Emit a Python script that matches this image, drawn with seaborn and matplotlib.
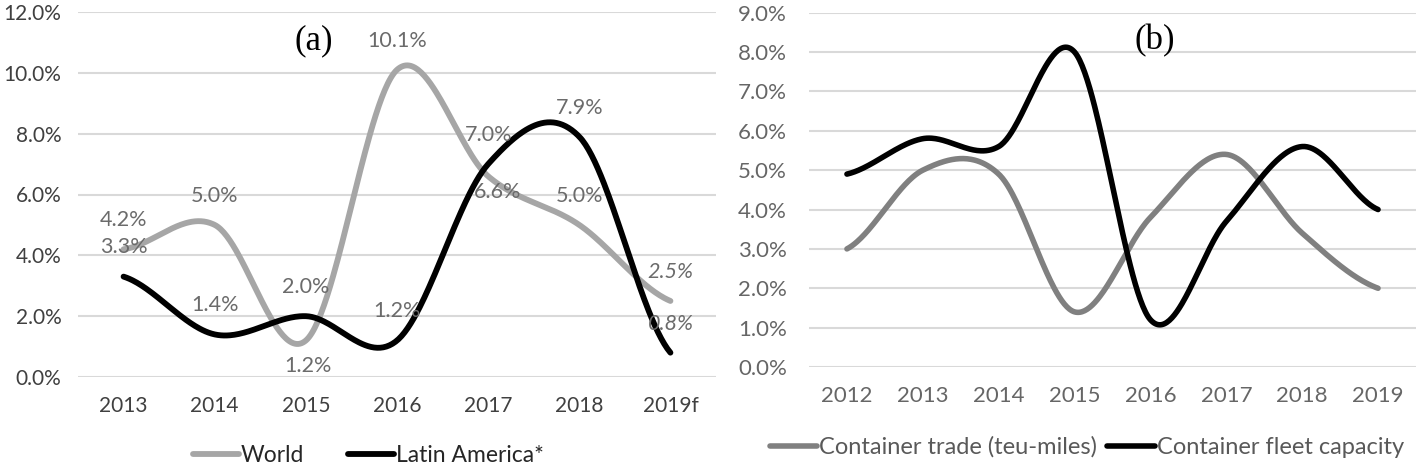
import numpy as np
import pandas as pd
import seaborn as sns
import matplotlib.pyplot as plt
from matplotlib.ticker import FuncFormatter


# panel (a): port throughput growth
years_a = ['2013', '2014', '2015', '2016', '2017', '2018', '2019f']
world = [4.2, 5.0, 1.2, 10.1, 6.6, 5.0, 2.5]
latam = [3.3, 1.4, 2.0, 1.2, 7.0, 7.9, 0.8]

# panel (b): container trade vs fleet
years_b = ['2012', '2013', '2014', '2015', '2016', '2017', '2018', '2019']
trade = [3.0, 5.0, 4.9, 1.4, 3.8, 5.4, 3.4, 2.0]
fleet = [4.9, 5.8, 5.6, 8.0, 1.2, 3.7, 5.6, 4.0]

# label placement (offset in points) for the data labels of panel (a)
world_lbl = [(0, 21), (0, 21), (1.5, -18), (0, 21), (6.5, -11), (0, 21), (0, 21)]
latam_lbl = [(0, 21)] * 7


def smooth(vals, n=60):
    # Excel style smoothed line (Catmull-Rom between the points)
    y = np.asarray(vals, dtype=float)
    k = len(y)
    m = np.empty(k)
    m[1:-1] = (y[2:] - y[:-2]) / 2
    m[0] = (y[1] - y[0]) / 2
    m[-1] = (y[-1] - y[-2]) / 2
    xs, ys = [], []
    for i in range(k - 1):
        t = np.linspace(0, 1, n, endpoint=(i == k - 2))
        h00 = 2*t**3 - 3*t**2 + 1
        h10 = t**3 - 2*t**2 + t
        h01 = -2*t**3 + 3*t**2
        h11 = t**3 - t**2
        xs.append(i + t)
        ys.append(h00*y[i] + h10*m[i] + h01*y[i+1] + h11*m[i+1])
    return np.concatenate(xs), np.concatenate(ys)


def curve_frame(series):
    parts = []
    for name, vals in series.items():
        x, y = smooth(vals)
        parts.append(pd.DataFrame({'x': x, 'y': y, 'series': name}))
    return pd.concat(parts, ignore_index=True)


sns.set_theme(style='white')
plt.rcParams['font.family'] = ['Lato', 'DejaVu Sans']

fig = plt.figure(figsize=(14.18, 4.67), dpi=100)
ax_a = fig.add_axes([78/1418, 90/467, 638/1418, 365/467])
ax_b = fig.add_axes([809/1418, 100/467, 607/1418, 354.3/467])

pct = FuncFormatter(lambda v, p: f'{v:.1f}%')

# ---- panel (a)
df_a = curve_frame({'World': world, 'Latin America*': latam})
sns.lineplot(data=df_a, x='x', y='y', hue='series', sort=False, ax=ax_a,
             palette={'World': '#a6a6a6', 'Latin America*': '#000000'},
             linewidth=4.2, estimator=None)

for vals, offs in [(world, world_lbl), (latam, latam_lbl)]:
    for i, (v, off) in enumerate(zip(vals, offs)):
        ax_a.annotate(f'{v:.1f}%', (i, v), xytext=off, textcoords='offset points',
                      ha='center', va='center', fontsize=15.5, color='#6b6b6b',
                      style='italic' if i == len(vals) - 1 else 'normal')

ax_a.set_xlim(-0.5, 6.5)
ax_a.set_ylim(0, 12)
ax_a.set_yticks(np.arange(0, 12.1, 2))
ax_a.yaxis.set_major_formatter(pct)
ax_a.set_xticks(range(len(years_a)))
ax_a.set_xticklabels(years_a)
ax_a.tick_params(axis='both', length=0, labelsize=15, labelcolor='#404040')
ax_a.tick_params(axis='x', pad=14)
ax_a.tick_params(axis='y', pad=12)
ax_a.text(0.37, 0.92, '(a)', transform=ax_a.transAxes, ha='center', va='center',
          fontsize=25, family='Liberation Serif', color='black')
ax_a.legend(loc='center', bbox_to_anchor=(0.455, -0.214), ncol=2, frameon=False,
            fontsize=16.5, handlelength=2.0, handletextpad=0.1, columnspacing=1.9,
            labelcolor='#262626')

# ---- panel (b)
df_b = curve_frame({'Container trade (teu-miles)': trade, 'Container fleet capacity': fleet})
sns.lineplot(data=df_b, x='x', y='y', hue='series', sort=False, ax=ax_b,
             palette={'Container trade (teu-miles)': '#808080',
                      'Container fleet capacity': '#000000'},
             linewidth=4.0, estimator=None)

ax_b.set_xlim(-0.5, 7.5)
ax_b.set_ylim(0, 9)
ax_b.set_yticks(np.arange(0, 9.1, 1))
ax_b.yaxis.set_major_formatter(pct)
ax_b.set_xticks(range(len(years_b)))
ax_b.set_xticklabels(years_b)
ax_b.tick_params(axis='both', length=0, labelsize=16, labelcolor='#666666')
ax_b.tick_params(axis='x', pad=14)
ax_b.tick_params(axis='y', pad=16)
ax_b.text(0.57, 0.92, '(b)', transform=ax_b.transAxes, ha='center', va='center',
          fontsize=25, family='Liberation Serif', color='black')
ax_b.legend(loc='center', bbox_to_anchor=(0.458, -0.226), ncol=2, frameon=False,
            fontsize=17, handlelength=2.0, handletextpad=0.1, columnspacing=0.42,
            labelcolor='#595959')

for ax in (ax_a, ax_b):
    ax.set_xlabel('')
    ax.set_ylabel('')
    ax.grid(axis='y', color='#d9d9d9', linewidth=1.5)
    ax.set_axisbelow(True)
    sns.despine(ax=ax, left=True, bottom=True)

fig.savefig('out.png', dpi=100)
